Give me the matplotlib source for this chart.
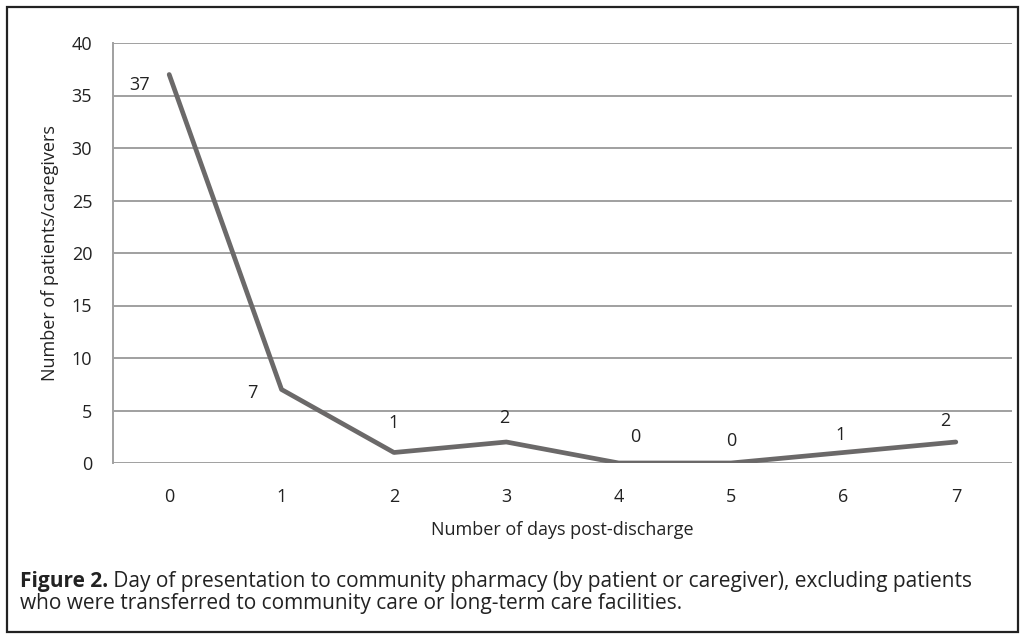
import matplotlib.pyplot as plt
from matplotlib.patches import Rectangle

plt.rcParams['font.family'] = ['Open Sans', 'DejaVu Sans']

# Daten
days = [0, 1, 2, 3, 4, 5, 6, 7]
patients = [37, 7, 1, 2, 0, 0, 1, 2]
# Label-Versatz in Pixeln (x, y)
label_offsets = [(-30, -10), (-29, -3), (0, 29), (-2, 24), (17, 26), (0, 22), (-3, 17), (-11, 21)]

yticks = [0, 5, 10, 15, 20, 25, 30, 35, 40]
caption_bold = 'Figure 2.'
caption_line1 = ' Day of presentation to community pharmacy (by patient or caregiver), excluding patients'
caption_line2 = 'who were transferred to community care or long-term care facilities.'

fs = 13
cap_fs = 15

fig = plt.figure(figsize=(10.25, 6.4), dpi=100)
ax = fig.add_axes([113 / 1025, 1 - 463 / 640, 899 / 1025, 420 / 640])

ax.plot(days, patients, color='#6b6969', linewidth=3.4, solid_capstyle='round', zorder=3)
for d, v, off in zip(days, patients, label_offsets):
    ax.annotate(str(v), (d, v), xytext=off, textcoords='offset pixels',
                ha='center', va='center', fontsize=fs, color='#222222')

ax.set_xlim(-0.5, 7.5)
ax.set_ylim(0, 40)
ax.set_yticks(yticks)
ax.set_xticks(days)
ax.yaxis.grid(True, color='#a0a0a0', linewidth=1.4)
ax.set_axisbelow(True)
for s in ['top', 'right', 'bottom']:
    ax.spines[s].set_visible(False)
ax.spines['left'].set_color('#a0a0a0')
ax.spines['left'].set_linewidth(1.4)
ax.tick_params(length=0, labelsize=fs, colors='#222222')
ax.tick_params(axis='x', pad=18)
ax.tick_params(axis='y', pad=15)
ax.set_xlabel('Number of days post-discharge', fontsize=fs, color='#222222', labelpad=11)
ax.set_ylabel('Number of patients/caregivers', fontsize=fs, color='#222222', labelpad=9)

# Bildunterschrift
t = fig.text(20 / 1025, 1 - 582 / 640, caption_bold, fontsize=cap_fs, fontweight='bold',
             va='center', color='#222222')
fig.canvas.draw()
bb = t.get_window_extent()
fig.text(bb.x1 / 1025, 1 - 582 / 640, caption_line1, fontsize=cap_fs,
         va='center', color='#222222')
fig.text(20 / 1025, 1 - 603 / 640, caption_line2, fontsize=cap_fs,
         va='center', color='#222222')

# Rahmen
fig.add_artist(Rectangle((7 / 1025, 1 - 632 / 640), 1011 / 1025, 625 / 640,
                         transform=fig.transFigure, fill=False, edgecolor='#222222', linewidth=1.6))

fig.savefig('out.png', dpi=100)
